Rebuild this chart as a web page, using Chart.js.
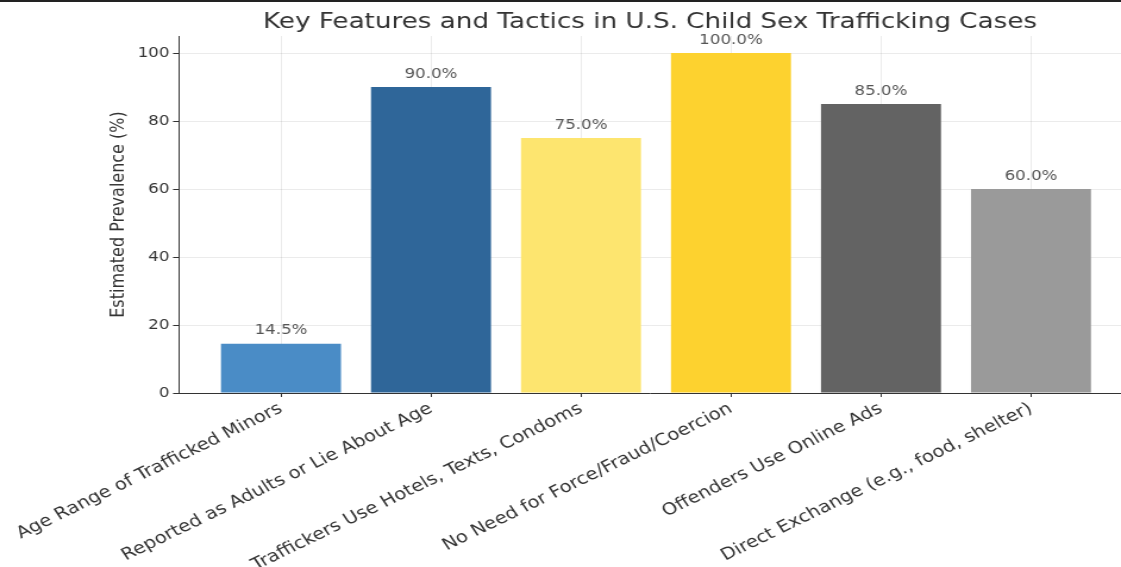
<!DOCTYPE html>
<html>
<head>
<meta charset="utf-8">
<script src="https://cdn.jsdelivr.net/npm/chart.js@4"></script>
<style>
  html, body { margin: 0; padding: 0; background: #fff; overflow: hidden; }
  body { border-top: 2px solid #222; box-sizing: border-box; width: 1121px; height: 567px; }
  /* the source picture is stretched sideways, so the canvas is too */
  #featuresChart { display: block; transform: scaleX(1.19); transform-origin: 0 0; }
</style>
</head>
<body>
<canvas id="featuresChart" width="942" height="565"></canvas>
<script>
const categories = [
  'Age Range of Trafficked Minors',
  'Reported as Adults or Lie About Age',
  'Traffickers Use Hotels, Texts, Condoms',
  'No Need for Force/Fraud/Coercion',
  'Offenders Use Online Ads',
  'Direct Exchange (e.g., food, shelter)'
];
const prevalence = [14.5, 90, 75, 100, 85, 60];
const barColors = ['#4a8cc6', '#2f6699', '#fde56f', '#fdd22f', '#636363', '#9a9a9a'];
const yTicks = [0, 20, 40, 60, 80, 100];

const textColor = '#333';
const gridColor = 'rgba(0,0,0,0.08)';

// value labels above each bar
const valueLabels = {
  id: 'valueLabels',
  afterDatasetsDraw(chart) {
    const ctx = chart.ctx;
    const meta = chart.getDatasetMeta(0);
    ctx.save();
    ctx.font = '14px "DejaVu Sans"';
    ctx.fillStyle = '#555';
    ctx.textAlign = 'center';
    ctx.textBaseline = 'bottom';
    meta.data.forEach((bar, i) => {
      ctx.fillText(prevalence[i].toFixed(1) + '%', bar.x, bar.y - 6);
    });
    ctx.restore();
  }
};

const ctx = document.getElementById('featuresChart').getContext('2d');
const chart = new Chart(ctx, {
  type: 'bar',
  data: {
    datasets: [{
      data: prevalence.map((v, i) => ({ x: i, y: v })),
      backgroundColor: barColors,
      borderWidth: 0,
      barPercentage: 0.8,
      categoryPercentage: 1.0,
    }],
  },
  options: {
    responsive: false,
    animation: false,
    devicePixelRatio: 1,
    layout: { padding: { left: 80, right: 0, top: 0, bottom: 0 } },
    plugins: {
      legend: { display: false },
      tooltip: { enabled: false },
      title: {
        display: true,
        fullSize: false,
        text: 'Key Features and Tactics in U.S. Child Sex Trafficking Cases',
        color: textColor,
        font: { family: 'DejaVu Sans', size: 22, weight: 'normal', lineHeight: 1.2 },
        padding: { top: 7, bottom: 0.6 },
      },
    },
    scales: {
      x: {
        type: 'linear',
        min: -0.68,
        max: 5.6,
        offset: false,
        z: 1,
        afterBuildTicks: scale => { scale.ticks = categories.map((_, i) => ({ value: i })); },
        afterFit: scale => {
          scale.height = 174;
          // long rotated labels may run past the left edge, like the original
          scale.paddingLeft = 0;
          scale.paddingRight = 0;
        },
        ticks: {
          color: textColor,
          font: { family: 'DejaVu Sans', size: 16.5 },
          minRotation: 30,
          maxRotation: 30,
          autoSkip: false,
          padding: 2,
          callback: value => categories[value],
        },
        grid: { offset: false, color: gridColor, tickColor: textColor, tickLength: 4 },
        border: { color: textColor, width: 1 },
      },
      y: {
        min: 0,
        max: 105,
        z: 1,
        afterBuildTicks: scale => { scale.ticks = yTicks.map(v => ({ value: v })); },
        afterFit: scale => { scale.width = 70.4; },
        ticks: {
          color: textColor,
          font: { family: 'DejaVu Sans', size: 14 },
          padding: 3,
        },
        grid: { color: gridColor, tickColor: textColor, tickLength: 5 },
        border: { color: textColor, width: 1 },
        title: {
          display: true,
          text: 'Estimated Prevalence (%)',
          color: textColor,
          font: { family: 'DejaVu Sans', size: 16 },
          padding: { top: 10.4, bottom: 0 },
        },
      },
    },
  },
  plugins: [valueLabels],
});
</script>
</body>
</html>
